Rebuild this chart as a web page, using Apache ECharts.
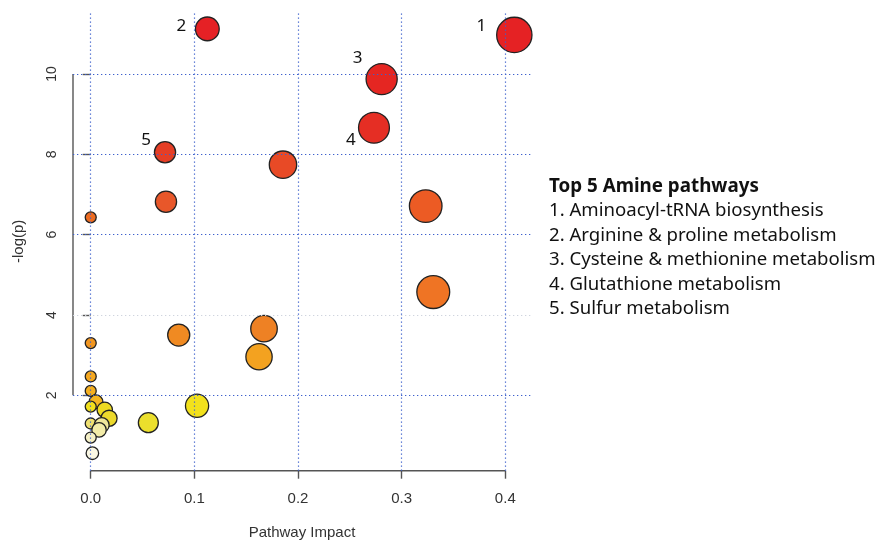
<!DOCTYPE html>
<html>
<head>
<meta charset="utf-8">
<script src="https://cdn.jsdelivr.net/npm/echarts@6/dist/echarts.min.js"></script>
<style>html,body{margin:0;padding:0;background:#fff}#chart{width:881px;height:541px}</style>
</head>
<body>
<div id="chart"></div>
<script>
// ---- data (sorted by -log(p), descending) ----
const impact = [0.1125, 0.4087, 0.2807, 0.2733, 0.0717, 0.1855, 0.0726, 0.3232, 0.0, 0.3305,
                0.1672, 0.0849, 0.0, 0.1624, 0.0, 0.0, 0.0051, 0.1026, 0.0, 0.0135,
                0.0177, 0.0556, 0.0, 0.0106, 0.008, 0.0, 0.0016];
const negLogP = [11.12, 10.97, 9.87, 8.66, 8.05, 7.74, 6.82, 6.71, 6.43, 4.57,
                 3.66, 3.50, 3.30, 2.96, 2.47, 2.11, 1.84, 1.74, 1.72, 1.64,
                 1.43, 1.32, 1.30, 1.26, 1.14, 0.95, 0.56];
const pointTags = ['2', '1', '3', '4', '5'];
const xTicks = [0, 0.1, 0.2, 0.3, 0.4];
const yTicks = [2, 4, 6, 8, 10];
const xTickLabels = ['0.0', '0.1', '0.2', '0.3', '0.4'];
const legendTitle = 'Top 5 Amine pathways';
const legendItems = ['1. Aminoacyl-tRNA biosynthesis', '2. Arginine & proline metabolism',
  '3. Cysteine & methionine metabolism', '4. Glutathione metabolism', '5. Sulfur metabolism'];

// ---- styles ----
const X_MIN = -0.0171, X_MAX = 0.4248, Y_MIN = 0.125, Y_MAX = 11.54;
const colorStops = [
  [0.56, '#fbf8e4'], [0.95, '#f5f0c6'], [1.14, '#f3eca8'], [1.26, '#f0e79c'], [1.30, '#efe070'],
  [1.32, '#ebdf2c'], [1.43, '#ecd92c'], [1.64, '#eedb22'], [1.74, '#f2e11c'], [1.80, '#f4c021'],
  [1.84, '#f5b621'], [2.11, '#f5b020'], [2.47, '#f5a820'], [2.96, '#f3a220'], [3.30, '#f2961f'],
  [3.50, '#f08a22'], [3.66, '#ee8124'], [4.57, '#ef7424'], [6.43, '#ed6c21'], [6.71, '#ec5b24'],
  [6.82, '#e8572a'], [7.74, '#e84a26'], [8.05, '#e53e26'], [8.66, '#e52e24'], [9.87, '#e52622'],
  [11.2, '#e52125']];
function hex(c){return [1,3,5].map(i=>parseInt(c.substr(i,2),16));}
function colorFor(v){
  if (v <= colorStops[0][0]) return colorStops[0][1];
  for (let i = 1; i < colorStops.length; i++) {
    if (v <= colorStops[i][0]) {
      const [a, ca] = colorStops[i-1], [b, cb] = colorStops[i];
      const t = (v - a) / (b - a), A = hex(ca), B = hex(cb);
      return 'rgb(' + A.map((x, k) => Math.round(x + (B[k]-x)*t)).join(',') + ')';
    }
  }
  return colorStops[colorStops.length-1][1];
}
const tagOffsets = {'1': [-33, -9], '2': [-26, -3], '3': [-24, -21], '4': [-23, 12], '5': [-19, -12]};

const points = impact.map((x, i) => {
  const item = {value: [x, negLogP[i]]};
  const tag = pointTags[i];
  if (tag) {
    item.label = {show: true, position: 'inside', formatter: tag, offset: tagOffsets[tag],
      color: '#111', fontSize: 17, fontFamily: 'Noto Sans'};
  }
  return item;
});

const gridBlue = '#3d60cc';
const dotted = [1.3, 2.7];
const markLines = [];
xTicks.forEach(v => markLines.push({xAxis: v, lineStyle: {color: gridBlue}}));
yTicks.forEach(v => markLines.push({yAxis: v, lineStyle: {color: v === 4 ? '#cfd4de' : gridBlue}}));

const chart = echarts.init(document.getElementById('chart'), null, {renderer: 'canvas'});
const xFont = {fontFamily: 'Liberation Sans', fontSize: 15, color: '#333'};
const yFont = {fontFamily: 'Liberation Sans', fontSize: 14, color: '#333'};
chart.setOption({
  animation: false,
  backgroundColor: '#ffffff',
  grid: {left: 73, top: 12, right: 350, bottom: 70.3, containLabel: false, outerBoundsMode: 'none'},
  xAxis: {
    type: 'value', min: X_MIN, max: X_MAX,
    axisLine: {show: false},
    splitLine: {show: false},
    axisTick: {show: true, customValues: xTicks, length: 8, lineStyle: {color: '#555', width: 1.4}},
    axisLabel: Object.assign({customValues: xTicks, margin: 21,
      formatter: v => xTickLabels[xTicks.findIndex(t => Math.abs(t - v) < 1e-9)]}, xFont),
    name: 'Pathway Impact', nameLocation: 'middle', nameGap: 55,
    nameTextStyle: xFont
  },
  yAxis: {
    type: 'value', min: Y_MIN, max: Y_MAX,
    axisLine: {show: false},
    splitLine: {show: false},
    axisTick: {show: true, customValues: yTicks, length: 8, lineStyle: {color: '#555', width: 1.4}},
    axisLabel: Object.assign({customValues: yTicks, margin: 14, rotate: 90,
      formatter: v => String(v)}, yFont),
    name: '-log(p)', nameLocation: 'middle', nameGap: 47, nameRotate: 90,
    nameTextStyle: xFont
  },
  series: [
    {
      type: 'line', silent: true, clip: false, symbol: 'none', z: 1,
      data: [[xTicks[0], Y_MIN], [xTicks[xTicks.length-1], Y_MIN]],
      lineStyle: {color: '#555', width: 1.4},
      markLine: {silent: true, symbol: 'none', label: {show: false},
        lineStyle: {type: dotted, width: 1.2}, data: markLines}
    },
    {
      type: 'line', silent: true, clip: false, symbol: 'none', z: 1,
      data: [[X_MIN, yTicks[0]], [X_MIN, yTicks[yTicks.length-1]]],
      lineStyle: {color: '#555', width: 1.4}
    },
    {
      type: 'scatter', z: 3, clip: false,
      data: points,
      symbolSize: v => 11 + 38 * Math.sqrt(v[0]),
      itemStyle: {
        color: p => colorFor(p.value[1]),
        borderColor: '#222', borderWidth: 1.3, opacity: 1
      }
    }
  ],
  graphic: [
    {type: 'text', left: 549, top: 177, style: {text: legendTitle, font: 'bold 18.8px "Noto Sans"', fill: '#111'}}
  ].concat(legendItems.map((t, i) => ({
    type: 'text', left: 549, top: 201.5 + i * 24.5,
    style: {text: t, font: '18.6px "Noto Sans"', fill: '#111'}
  })))
});
</script>
</body>
</html>
